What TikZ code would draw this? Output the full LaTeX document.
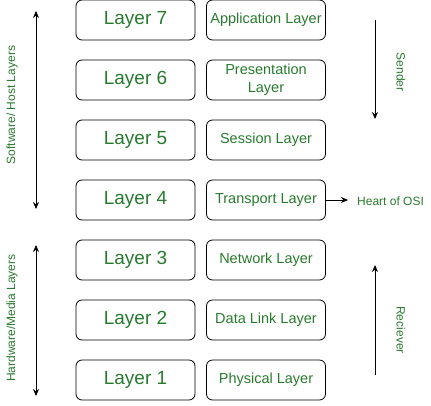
\documentclass[tikz,border=0pt]{standalone}
\usepackage{fontspec}
\setmainfont{Liberation Sans}
\usetikzlibrary{arrows.meta}
\definecolor{txtgreen}{RGB}{40,122,45}
\tikzset{
  layerbox/.style={draw=black, line width=0.8pt, rounded corners=6pt, minimum width=119pt, minimum height=40pt, inner sep=0pt, text=txtgreen, align=center},
  leftbox/.style={layerbox, font=\fontsize{19}{20}\selectfont},
  rightbox/.style={layerbox, font=\fontsize{14.5}{18}\selectfont},
  sidelabel/.style={text=txtgreen, font=\fontsize{12}{14}\selectfont, inner sep=0pt},
  arr/.style={line width=0.8pt, -{Stealth[length=7pt,width=6pt]}},
  darr/.style={line width=0.8pt, {Stealth[length=7pt,width=6pt]}-{Stealth[length=7pt,width=6pt]}}
}
\begin{document}
\begin{tikzpicture}[x=1pt,y=-1pt]
\useasboundingbox (0,0) rectangle (431,405);
% left boxes
\node[leftbox] (L7) at (135.5,20) {Layer 7};
\node[leftbox] (L6) at (135.5,80) {Layer 6};
\node[leftbox] (L5) at (135.5,140) {Layer 5};
\node[leftbox] (L4) at (135.5,200) {Layer 4};
\node[leftbox] (L3) at (135.5,260) {Layer 3};
\node[leftbox] (L2) at (135.5,320) {Layer 2};
\node[leftbox] (L1) at (135.5,380) {Layer 1};
% right boxes
\node[rightbox] (R7) at (266,20) {Application Layer};
\node[rightbox] (R6) at (266,80) {Presentation\\Layer};
\node[rightbox] (R5) at (266,140) {Session Layer};
\node[rightbox] (R4) at (266,200) {Transport Layer};
\node[rightbox] (R3) at (266,260) {Network Layer};
\node[rightbox] (R2) at (266,320) {Data Link Layer};
\node[rightbox] (R1) at (266,380) {Physical Layer};
% heart of OSI
\node[sidelabel, anchor=west] (heart) at (357,201) {Heart of OSI};
\draw[arr] (R4.east) -- (348,200);
% left arrows
\coordinate (swtop) at (36,11);
\coordinate (swbot) at (36,209);
\draw[darr] (swtop) -- (swbot);
\node[sidelabel, rotate=90] (swlabel) at (12,105) {Software/ Host Layers};
\coordinate (hwtop) at (36,245);
\coordinate (hwbot) at (36,396);
\draw[darr] (hwtop) -- (hwbot);
\node[sidelabel, rotate=90] (hwlabel) at (12,318) {Hardware/Media Layers};
% sender / receiver
\coordinate (sndtop) at (375,20);
\coordinate (sndbot) at (375,119);
\draw[arr] (sndtop) -- (sndbot);
\node[sidelabel, rotate=-90] (sender) at (401,72) {Sender};
\coordinate (rcvbot) at (375,375);
\coordinate (rcvtop) at (375,265);
\draw[arr] (rcvbot) -- (rcvtop);
\node[sidelabel, rotate=-90] (receiver) at (401,330) {Reciever};
\end{tikzpicture}
\end{document}
